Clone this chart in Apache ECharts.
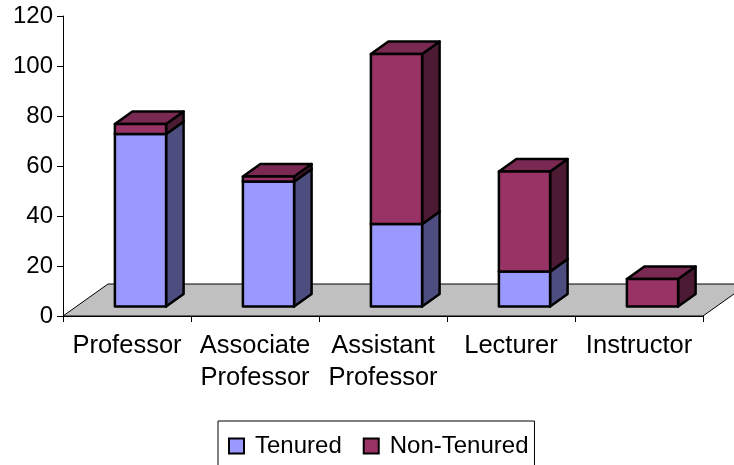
<!DOCTYPE html>
<html>
<head>
<meta charset="utf-8">
<script src="https://cdn.jsdelivr.net/npm/echarts@6/dist/echarts.min.js"></script>
<style>
  html, body { margin: 0; padding: 0; background: #fff; }
  #chart { width: 734px; height: 465px; }
</style>
</head>
<body>
<div id="chart"></div>
<script>
// Faculty by rank, split by tenure status
const categories = ['Professor', 'Associate\nProfessor', 'Assistant\nProfessor', 'Lecturer', 'Instructor'];
const tenured    = [69, 50, 33, 14, 0];
const nonTenured = [4, 2, 68, 40, 11];
const yTicks     = { min: 0, max: 120, interval: 20 };

// Oblique 3D look: offsets of the bar front plane and box depth (pixels)
const FRONT_DX = 13.5, FRONT_DY = -9.5;
const DEPTH_DX = 17.5, DEPTH_DY = -12.5;
const FLOOR_DX = 45, FLOOR_DY = -32;
const BAR_FRAC = 0.4;

const palette = {
  tenured:    { front: '#9999FF', side: '#4D4D80', top: '#7A7ACC' },
  nonTenured: { front: '#993366', side: '#4D1A33', top: '#7A2952' }
};

const edge = { stroke: '#000', lineWidth: 2.5, lineJoin: 'round' };

function boxRenderer(colors) {
  return function (params, api) {
    const cat = api.value(0), lo = api.value(1), hi = api.value(2);
    if (!(hi > lo)) return null;
    const band = api.size([1, 0])[0];
    const w = band * BAR_FRAC;
    const pLo = api.coord([cat, lo]);
    const pHi = api.coord([cat, hi]);
    const x0 = pLo[0] - w / 2 + FRONT_DX, x1 = x0 + w;
    const yB = pLo[1] + FRONT_DY, yT = pHi[1] + FRONT_DY;
    return {
      type: 'group',
      children: [
        { type: 'polygon', shape: { points: [[x1, yB], [x1 + DEPTH_DX, yB + DEPTH_DY], [x1 + DEPTH_DX, yT + DEPTH_DY], [x1, yT]] },
          style: Object.assign({ fill: colors.side }, edge) },
        { type: 'polygon', shape: { points: [[x0, yT], [x1, yT], [x1 + DEPTH_DX, yT + DEPTH_DY], [x0 + DEPTH_DX, yT + DEPTH_DY]] },
          style: Object.assign({ fill: colors.top }, edge) },
        { type: 'rect', shape: { x: x0, y: yT, width: w, height: yB - yT },
          style: Object.assign({ fill: colors.front }, edge) }
      ]
    };
  };
}

function floorRenderer(params) {
  const cs = params.coordSys;
  const yb = cs.y + cs.height;
  return {
    type: 'polygon',
    shape: { points: [[cs.x, yb], [cs.x + cs.width, yb], [cs.x + cs.width + FLOOR_DX, yb + FLOOR_DY], [cs.x + FLOOR_DX, yb + FLOOR_DY]] },
    style: { fill: '#C0C0C0', stroke: '#000', lineWidth: 1 }
  };
}

const tenuredData = categories.map((c, i) => [i, 0, tenured[i]]);
const nonTenuredData = categories.map((c, i) => [i, tenured[i], tenured[i] + nonTenured[i]]);

const font = 'Liberation Sans, Arial, sans-serif';
const chart = echarts.init(document.getElementById('chart'), null, { renderer: 'canvas' });
chart.setOption({
  animation: false,
  backgroundColor: '#fff',
  grid: { left: 63, right: 31, top: 16, bottom: 149, containLabel: false },
  xAxis: {
    type: 'category',
    data: categories,
    axisLine: { lineStyle: { color: '#000', width: 1 } },
    axisTick: { show: true, length: 6, lineStyle: { color: '#000' } },
    axisLabel: { color: '#000', fontFamily: font, fontSize: 25.5, lineHeight: 32, margin: 14, interval: 0 }
  },
  yAxis: {
    type: 'value',
    min: yTicks.min, max: yTicks.max, interval: yTicks.interval,
    axisLine: { show: true, lineStyle: { color: '#000', width: 1 } },
    axisTick: { show: true, length: 6, lineStyle: { color: '#000' } },
    axisLabel: { color: '#000', fontFamily: font, fontSize: 24, margin: 10 },
    splitLine: { show: false }
  },
  legend: {
    left: 218, top: 421,
    padding: [13, 6, 8, 10],
    itemGap: 21,
    itemWidth: 15, itemHeight: 15,
    icon: 'rect',
    borderColor: '#000', borderWidth: 1,
    textStyle: { color: '#000', fontFamily: font, fontSize: 24, padding: [0, 0, 0, 6] },
    data: [
      { name: 'Tenured', itemStyle: { color: palette.tenured.front, borderColor: '#000', borderWidth: 2 } },
      { name: 'Non-Tenured', itemStyle: { color: palette.nonTenured.front, borderColor: '#000', borderWidth: 2 } }
    ]
  },
  series: [
    { type: 'custom', name: 'floor', silent: true, clip: false, z: 1,
      data: [[0, 0, 0]], renderItem: floorRenderer },
    { type: 'custom', name: 'Tenured', clip: false, z: 2,
      itemStyle: { color: palette.tenured.front },
      encode: { x: 0, y: [1, 2] },
      data: tenuredData, renderItem: boxRenderer(palette.tenured) },
    { type: 'custom', name: 'Non-Tenured', clip: false, z: 3,
      itemStyle: { color: palette.nonTenured.front },
      encode: { x: 0, y: [1, 2] },
      data: nonTenuredData, renderItem: boxRenderer(palette.nonTenured) }
  ]
});
</script>
</body>
</html>
